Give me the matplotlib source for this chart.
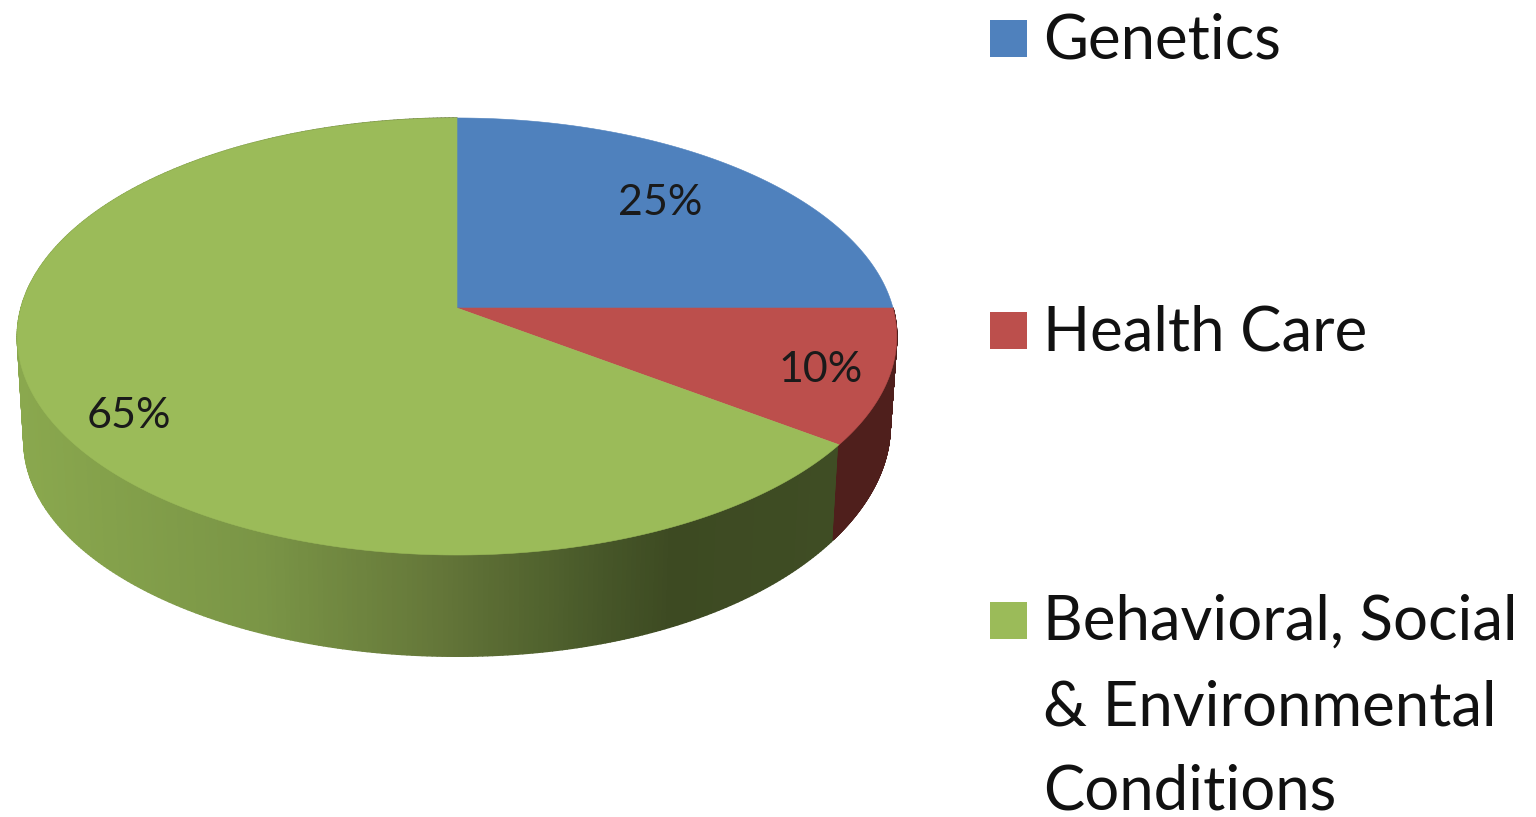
import numpy as np
import matplotlib
matplotlib.use("Agg")
import matplotlib.pyplot as plt
from matplotlib.collections import PolyCollection
from matplotlib.colors import LinearSegmentedColormap
from matplotlib.patches import Polygon, Rectangle

labels = ["Genetics", "Health Care", "Behavioral, Social\n& Environmental\nConditions"]
values = [25, 10, 65]
pct_labels = ["25%", "10%", "65%"]

colors = ["#4f81bd", "#bc4f4c", "#9bbb59"]
side_red = "#4f1f1c"
# cieniowanie boku, wg pozycji x w pikselach
side_green = LinearSegmentedColormap.from_list(
    "side", [(0.0, "#8aa84e"), (0.3, "#7a9546"), (0.5, "#66793a"), (0.72, "#465628"), (0.8, "#3d4a22"), (1.0, "#3f4d24")], N=1024)

# parametry rzutu perspektywicznego tarczy, w pikselach obrazka
cx, cy = 457, 308
rx, ry, persp = 436, 214.8, 0.1304
depth, shrink = 105, 0.985


def project(theta):
    # theta od gory, zgodnie z zegarem
    w = 1 + persp * np.cos(theta)
    return cx + rx * np.sin(theta) / w, cy - ry * np.cos(theta) / w


def bottom_edge(theta):
    x, y = project(theta)
    # z prawej bok jest troche nizszy niz z lewej
    d = depth - 15 * np.clip(np.sin(theta), 0, 1) ** 3
    return cx + (x - cx) * shrink, cy + (y - cy) * shrink + d


fig = plt.figure(figsize=(15.36, 8.17), dpi=100)
ax = fig.add_axes([0, 0, 1, 1])
ax.set_xlim(0, 1536)
ax.set_ylim(817, 0)
ax.axis("off")
plt.rcParams["font.family"] = ["Lato", "DejaVu Sans"]

edges = np.cumsum([0] + values) / sum(values) * 2 * np.pi

# bok: najpierw cienkie paski, gorna tarcza je potem zakryje
for i in [1, 2]:
    th = np.linspace(edges[i], edges[i + 1], 400)
    tx, ty = project(th)
    bx, by = bottom_edge(th)
    polys, cols = [], []
    for j in range(len(th) - 1):
        polys.append([(tx[j], ty[j]), (tx[j + 1], ty[j + 1]), (bx[j + 1], by[j + 1]), (bx[j], by[j])])
        cols.append(side_red if i == 1 else side_green((tx[j] - 16) / (840 - 16)))
    ax.add_collection(PolyCollection(polys, facecolors=cols, edgecolors=cols, linewidths=1.0, zorder=1 if i == 2 else 1.5))

# gorna tarcza
for i in range(3):
    th = np.linspace(edges[i], edges[i + 1], 300)
    tx, ty = project(th)
    pts = np.column_stack([np.r_[cx, tx], np.r_[cy, ty]])
    ax.add_patch(Polygon(pts, closed=True, facecolor=colors[i], edgecolor=colors[i], linewidth=0.4, zorder=2))

pct_pos = [(660, 203), (821, 370), (129, 416)]
for txt, (x, y) in zip(pct_labels, pct_pos):
    ax.text(x, y, txt, fontsize=31, color="#1a1a1a", ha="center", va="center", zorder=3)

# legenda, interlinia w trzyliniowym podpisie jest duza wiec kazda linia osobno
square_y = [20, 312, 602]
baselines = [[58], [350], [640, 725, 810]]
for lab, col, y, bases in zip(labels, colors, square_y, baselines):
    ax.add_patch(Rectangle((990, y), 37, 37, facecolor=col, edgecolor="none"))
    for line, base in zip(lab.split("\n"), bases):
        ax.text(1043, base, line, fontsize=44.5, color="#111111", ha="left", va="baseline")

fig.savefig("out.png", dpi=100)
